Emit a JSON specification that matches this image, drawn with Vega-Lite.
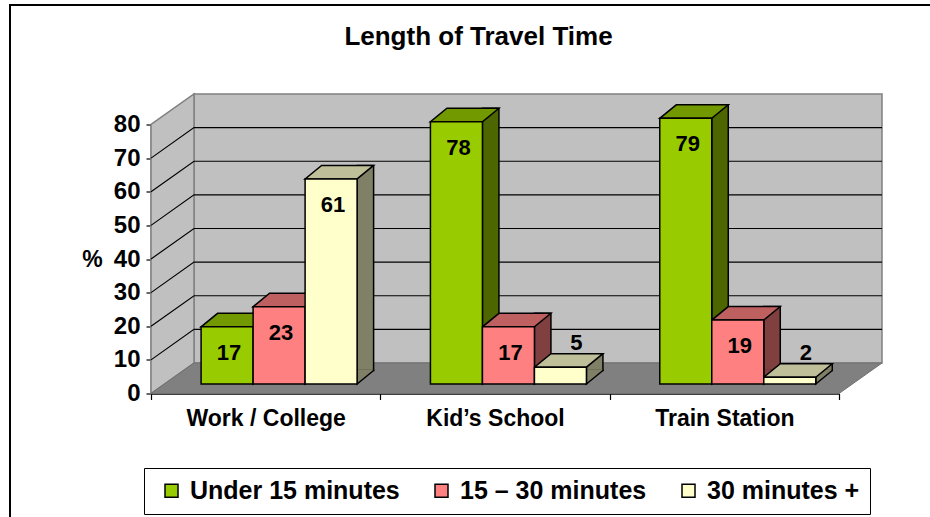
{
  "$schema": "https://vega.github.io/schema/vega-lite/v6.json",
  "width": 688,
  "height": 269,
  "autosize": {"type": "none"},
  "padding": {"left": 194, "top": 94, "right": 48, "bottom": 154},
  "background": "white",
  "title": {
    "text": "Length of Travel Time",
    "font": "Liberation Sans",
    "fontSize": 26,
    "fontWeight": "bold",
    "color": "black",
    "anchor": "middle",
    "frame": "group",
    "baseline": "alphabetic",
    "offset": 0,
    "dx": -59.5,
    "dy": 70
  },
  "data": {
    "values": [
      {"place": "Work / College", "time": "Under 15 minutes", "pct": 17},
      {"place": "Work / College", "time": "15 – 30 minutes", "pct": 23},
      {"place": "Work / College", "time": "30 minutes +", "pct": 61},
      {"place": "Kid’s School", "time": "Under 15 minutes", "pct": 78},
      {"place": "Kid’s School", "time": "15 – 30 minutes", "pct": 17},
      {"place": "Kid’s School", "time": "30 minutes +", "pct": 5},
      {"place": "Train Station", "time": "Under 15 minutes", "pct": 79},
      {"place": "Train Station", "time": "15 – 30 minutes", "pct": 19},
      {"place": "Train Station", "time": "30 minutes +", "pct": 2}
    ]
  },
  "layer": [
    {
      "description": "outer chart frame",
      "data": {"values": [{}]},
      "mark": {"type": "point", "shape": "M-528,160 L-528,-358 L400,-358", "size": 4, "filled": false, "fillOpacity": 0, "stroke": "black", "strokeWidth": 2, "opacity": 1},
      "encoding": {
        "x": {"datum": "Kid’s School", "type": "nominal", "title": null, "scale": {"type": "band", "domain": ["Work / College", "Kid’s School", "Train Station"], "paddingInner": 0, "paddingOuter": 0}},
        "y": {"datum": 0, "type": "quantitative", "title": "%", "scale": {"domain": [0, 80], "nice": false, "zero": false}}
      }
    },
    {
      "description": "left side wall",
      "data": {"values": [{}]},
      "mark": {"type": "point", "shape": "M-344,0 L-344,-269 L-387,-238.5 L-387,30.5 Z", "size": 4, "filled": true, "fill": "#c0c0c0", "stroke": "#808080", "strokeWidth": 1.5, "opacity": 1},
      "encoding": {
        "x": {"datum": "Kid’s School", "type": "nominal", "title": null, "scale": {"type": "band", "domain": ["Work / College", "Kid’s School", "Train Station"], "paddingInner": 0, "paddingOuter": 0}},
        "y": {"datum": 0, "type": "quantitative", "title": "%", "scale": {"domain": [0, 80], "nice": false, "zero": false}}
      }
    },
    {
      "description": "floor",
      "data": {"values": [{}]},
      "mark": {"type": "point", "shape": "M-344,0 L344,0 L301,30.5 L-387,30.5 Z", "size": 4, "filled": true, "fill": "#808080", "stroke": "#707070", "strokeWidth": 1, "opacity": 1},
      "encoding": {
        "x": {"datum": "Kid’s School", "type": "nominal", "title": null, "scale": {"type": "band", "domain": ["Work / College", "Kid’s School", "Train Station"], "paddingInner": 0, "paddingOuter": 0}},
        "y": {"datum": 0, "type": "quantitative", "title": "%", "scale": {"domain": [0, 80], "nice": false, "zero": false}}
      }
    },
    {
      "description": "gridlines running along side wall and back wall",
      "data": {"values": [{}]},
      "mark": {"type": "point", "shape": "M-387,-3.125 L-344,-33.625 L344,-33.625 M-387,-36.75 L-344,-67.25 L344,-67.25 M-387,-70.375 L-344,-100.875 L344,-100.875 M-387,-104 L-344,-134.5 L344,-134.5 M-387,-137.625 L-344,-168.125 L344,-168.125 M-387,-171.25 L-344,-201.75 L344,-201.75 M-387,-204.875 L-344,-235.375 L344,-235.375", "size": 4, "filled": false, "fillOpacity": 0, "stroke": "black", "strokeWidth": 1.2, "opacity": 1},
      "encoding": {
        "x": {"datum": "Kid’s School", "type": "nominal", "title": null, "scale": {"type": "band", "domain": ["Work / College", "Kid’s School", "Train Station"], "paddingInner": 0, "paddingOuter": 0}},
        "y": {"datum": 0, "type": "quantitative", "title": "%", "scale": {"domain": [0, 80], "nice": false, "zero": false}}
      }
    },
    {
      "description": "bar side faces",
      "mark": {"type": "bar", "yOffset": 7.5, "y2Offset": 7.5, "stroke": "black", "strokeWidth": 1.5},
      "encoding": {
        "x": {"field": "place", "type": "nominal", "title": null, "scale": {"type": "band", "domain": ["Work / College", "Kid’s School", "Train Station"], "paddingInner": 0, "paddingOuter": 0}},
        "xOffset": {"field": "time", "type": "nominal", "scale": {"type": "band", "domain": ["Under 15 minutes", "15 – 30 minutes", "30 minutes +"], "range": [59.1, 179.6], "paddingInner": 0.6827, "paddingOuter": 0}},
        "y": {"field": "pct", "type": "quantitative", "title": "%", "stack": null, "scale": {"domain": [0, 80], "nice": false, "zero": false}},
        "y2": {"datum": 0},
        "fill": {"field": "time", "type": "nominal", "scale": {"domain": ["Under 15 minutes", "15 – 30 minutes", "30 minutes +"], "range": ["#4d6600", "#804040", "#808066"]}, "legend": null}
      }
    },
    {
      "description": "bar side faces (lower corner)",
      "mark": {"type": "point", "shape": "M26,6.5 L26,21 L42.5,7.5 L42.5,6.5", "size": 4, "filled": true, "opacity": 1, "stroke": "black", "strokeWidth": 1.5},
      "encoding": {
        "x": {"field": "place", "type": "nominal", "title": null, "scale": {"type": "band", "domain": ["Work / College", "Kid’s School", "Train Station"], "paddingInner": 0, "paddingOuter": 0}},
        "xOffset": {"field": "time", "type": "nominal", "scale": {"type": "band", "domain": ["Under 15 minutes", "15 – 30 minutes", "30 minutes +"], "range": [7.1, 163.1], "paddingInner": 0, "paddingOuter": 0}},
        "y": {"datum": 0, "type": "quantitative", "title": "%", "scale": {"domain": [0, 80], "nice": false, "zero": false}},
        "fill": {"field": "time", "type": "nominal", "scale": {"domain": ["Under 15 minutes", "15 – 30 minutes", "30 minutes +"], "range": ["#4d6600", "#804040", "#808066"]}, "legend": null}
      }
    },
    {
      "description": "bar top faces",
      "mark": {"type": "point", "shape": "M-26,21 L26,21 L42.5,7.5 L-9.5,7.5 Z", "size": 4, "filled": true, "opacity": 1, "stroke": "black", "strokeWidth": 1.5},
      "encoding": {
        "x": {"field": "place", "type": "nominal", "title": null, "scale": {"type": "band", "domain": ["Work / College", "Kid’s School", "Train Station"], "paddingInner": 0, "paddingOuter": 0}},
        "xOffset": {"field": "time", "type": "nominal", "scale": {"type": "band", "domain": ["Under 15 minutes", "15 – 30 minutes", "30 minutes +"], "range": [7.1, 163.1], "paddingInner": 0, "paddingOuter": 0}},
        "y": {"field": "pct", "type": "quantitative", "title": "%", "stack": null, "scale": {"domain": [0, 80], "nice": false, "zero": false}},
        "fill": {"field": "time", "type": "nominal", "scale": {"domain": ["Under 15 minutes", "15 – 30 minutes", "30 minutes +"], "range": ["#739900", "#bf6060", "#bfbf99"]}, "legend": null}
      }
    },
    {
      "description": "bar front faces",
      "mark": {"type": "bar", "yOffset": 21, "y2Offset": 21, "stroke": "black", "strokeWidth": 1.5},
      "encoding": {
        "x": {"field": "place", "type": "nominal", "title": null, "scale": {"type": "band", "domain": ["Work / College", "Kid’s School", "Train Station"], "paddingInner": 0, "paddingOuter": 0}},
        "xOffset": {"field": "time", "type": "nominal", "scale": {"type": "band", "domain": ["Under 15 minutes", "15 – 30 minutes", "30 minutes +"], "range": [7.1, 163.1], "paddingInner": 0, "paddingOuter": 0}},
        "y": {"field": "pct", "type": "quantitative", "title": "%", "stack": null, "scale": {"domain": [0, 80], "nice": false, "zero": false}},
        "y2": {"datum": 0},
        "fill": {
          "field": "time", "type": "nominal",
          "scale": {"domain": ["Under 15 minutes", "15 – 30 minutes", "30 minutes +"], "range": ["#99cc00", "#ff8080", "#ffffcc"]},
          "legend": {
            "title": null, "orient": "none", "legendX": -50, "legendY": 374, "direction": "horizontal",
            "padding": 10, "strokeColor": "black", "fillColor": "white",
            "symbolType": "square", "symbolSize": 169, "symbolStrokeColor": "black", "symbolStrokeWidth": 1.5, "symbolOpacity": 1,
            "symbolOffset": 5, "labelOffset": 6, "columnPadding": 24,
            "labelFont": "Liberation Sans", "labelFontSize": 25, "labelFontWeight": "bold", "labelColor": "black", "labelLimit": 400
          }
        }
      }
    },
    {
      "description": "value labels inside the bars",
      "transform": [{"filter": "datum.pct >= 10"}],
      "mark": {"type": "text", "dx": 2, "dy": 47, "font": "Liberation Sans", "fontSize": 22, "fontWeight": "bold", "color": "black", "baseline": "middle", "align": "center"},
      "encoding": {
        "x": {"field": "place", "type": "nominal", "title": null, "scale": {"type": "band", "domain": ["Work / College", "Kid’s School", "Train Station"], "paddingInner": 0, "paddingOuter": 0}},
        "xOffset": {"field": "time", "type": "nominal", "scale": {"type": "band", "domain": ["Under 15 minutes", "15 – 30 minutes", "30 minutes +"], "range": [7.1, 163.1], "paddingInner": 0, "paddingOuter": 0}},
        "y": {"field": "pct", "type": "quantitative", "title": "%", "stack": null, "scale": {"domain": [0, 80], "nice": false, "zero": false}},
        "text": {"field": "pct", "type": "quantitative"}
      }
    },
    {
      "description": "value labels above the short bars",
      "transform": [{"filter": "datum.pct < 10"}],
      "mark": {"type": "text", "dx": 16, "dy": -3, "font": "Liberation Sans", "fontSize": 22, "fontWeight": "bold", "color": "black", "baseline": "middle", "align": "center"},
      "encoding": {
        "x": {"field": "place", "type": "nominal", "title": null, "scale": {"type": "band", "domain": ["Work / College", "Kid’s School", "Train Station"], "paddingInner": 0, "paddingOuter": 0}},
        "xOffset": {"field": "time", "type": "nominal", "scale": {"type": "band", "domain": ["Under 15 minutes", "15 – 30 minutes", "30 minutes +"], "range": [7.1, 163.1], "paddingInner": 0, "paddingOuter": 0}},
        "y": {"field": "pct", "type": "quantitative", "title": "%", "stack": null, "scale": {"domain": [0, 80], "nice": false, "zero": false}},
        "text": {"field": "pct", "type": "quantitative"}
      }
    }
  ],
  "resolve": {"scale": {"fill": "independent", "xOffset": "independent"}},
  "config": {
    "font": "Liberation Sans",
    "view": {"fill": "#c0c0c0", "stroke": "#808080", "strokeWidth": 1.5},
    "axisX": {
      "position": -43, "offset": 30.5, "grid": false, "zindex": 1,
      "domainColor": "black", "domainWidth": 1.5,
      "tickColor": "black", "tickWidth": 1.2, "tickSize": 6, "tickBand": "extent",
      "labelAngle": 0, "labelFont": "Liberation Sans", "labelFontSize": 23, "labelFontWeight": "bold", "labelColor": "black", "labelPadding": 8
    },
    "axisY": {
      "position": 30.5, "offset": 43, "grid": false, "zindex": 1, "tickCount": 8,
      "domainColor": "black", "domainWidth": 1.5,
      "tickColor": "black", "tickWidth": 1.2, "tickSize": 5,
      "labelFont": "Liberation Sans", "labelFontSize": 24, "labelFontWeight": "bold", "labelColor": "black", "labelPadding": 6,
      "titleAngle": 0, "titleAlign": "right", "titleBaseline": "middle", "titlePadding": 11,
      "titleFont": "Liberation Sans", "titleFontSize": 23, "titleFontWeight": "bold", "titleColor": "black"
    }
  }
}
